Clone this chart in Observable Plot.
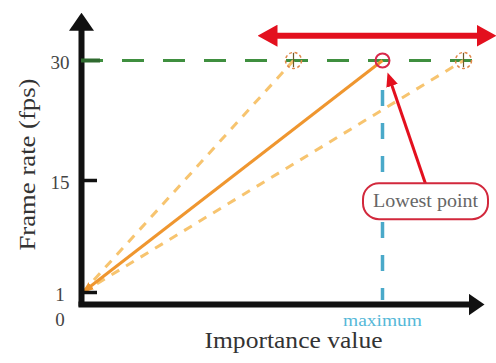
<!DOCTYPE html>
<html><head><meta charset="utf-8">
<script src="https://cdn.jsdelivr.net/npm/d3@7"></script>
<script src="https://cdn.jsdelivr.net/npm/@observablehq/plot@0.6"></script>
<style>body{margin:0;background:#fff} svg{display:block}</style>
</head><body><div id="chart"></div>
<script>
// ---- data ----
const yTicks = [1, 15, 30];
const yZero = [0];
const frameMin = 1;
const frameMax = 30;
const importanceStart = 0.25;
const importanceMax = 75.25;
const importanceAlt = [53, 95.5];
const maxLabel = ["maximum"];
const xTitle = ["Importance value"];
const yTitle = ["Frame rate (fps)"];
const noteLabel = ["Lowest point"];

// ---- annotation anchors (in scale units) ----
const yAxisLine = [{x1: 0, y1: -0.75, x2: 0, y2: 34.1}];
const xAxisLine = [{x1: -0.75, y1: -0.5, x2: 97.5, y2: -0.5}];
const rangeArrow = [{x1: 48.25, y1: 33.1, x2: 99.5, y2: 33.1}];
const noteBox = [{x1: 70.5, x2: 101.75, y1: 10.1, y2: 14.6}];
const notePos = {x: 86, y: 12.4};
const pointerArrow = [{x1: 86, y1: 14.6, x2: 77.4, y2: 27.2}];

const solidLine = [{x1: importanceStart, y1: frameMin, x2: importanceMax, y2: frameMax}];
const dashedLines = importanceAlt.map(v => ({x1: importanceStart, y1: frameMin, x2: v, y2: frameMax}));

const serif = "'Liberation Serif', 'DejaVu Serif', serif";

const chart = Plot.plot({
  width: 496,
  height: 363,
  marginLeft: 81,
  marginRight: 15,
  marginTop: 60,
  marginBottom: 63,
  x: {domain: [0, 100], axis: null},
  y: {domain: [0, 30], axis: null},
  style: {fontFamily: serif, background: "white", color: "#333", overflow: "visible"},
  marks: [
    Plot.ruleY([frameMax], {x1: 0, x2: 97.75, stroke: "#3f8f3f", strokeWidth: 3, strokeDasharray: "22,19"}),
    Plot.ruleX([importanceMax], {y1: 26.25, y2: 0, stroke: "#4aa9c9", strokeWidth: 3.5, strokeDasharray: "16,17"}),
    Plot.link(dashedLines, {x1: "x1", y1: "y1", x2: "x2", y2: "y2", stroke: "#f7c46f", strokeWidth: 3, strokeDasharray: "9,8"}),
    Plot.link(solidLine, {x1: "x1", y1: "y1", x2: "x2", y2: "y2", stroke: "#ef962f", strokeWidth: 3, ariaDescription: "orange-arrow"}),
    Plot.link(yAxisLine, {x1: "x1", y1: "y1", x2: "x2", y2: "y2", stroke: "#111", strokeWidth: 6, ariaDescription: "y-axis-line"}),
    Plot.link(xAxisLine, {x1: "x1", y1: "y1", x2: "x2", y2: "y2", stroke: "#111", strokeWidth: 6, ariaDescription: "x-axis-line"}),
    Plot.ruleY([1, 15], {x1: 0, x2: 4, stroke: "#111", strokeWidth: 3.5}),
    Plot.ruleY([frameMax], {x1: 0, x2: 4.75, stroke: "#2f6a2f", strokeWidth: 4}),
    Plot.axisY(yTicks, {anchor: "left", tickSize: 0, tickPadding: 21.5, textAnchor: "middle", fontSize: 19, color: "#444", dy: 2, label: null}),
    Plot.axisY(yZero, {anchor: "left", tickSize: 0, tickPadding: 21.5, textAnchor: "middle", fontSize: 19, color: "#444", dy: 19, label: null}),
    Plot.ruleX(importanceAlt, {y1: 29.1, y2: 30.9, stroke: "#6b5a2a", strokeWidth: 1.2}),
    Plot.dot(importanceAlt, {x: d => d, y: frameMax, r: 8, stroke: "#e0884a", strokeWidth: 1.5, strokeDasharray: "3,2.5", fill: "none"}),
    Plot.dot([importanceMax], {x: d => d, y: frameMax, r: 7, stroke: "#d8284a", strokeWidth: 2, fill: "none"}),
    Plot.link(rangeArrow, {x1: "x1", y1: "y1", x2: "x2", y2: "y2", stroke: "#e3101e", strokeWidth: 6, ariaDescription: "range-arrow"}),
    Plot.link(pointerArrow, {x1: "x1", y1: "y1", x2: "x2", y2: "y2", stroke: "#e3101e", strokeWidth: 3, ariaDescription: "pointer-arrow"}),
    Plot.rect(noteBox, {x1: "x1", x2: "x2", y1: "y1", y2: "y2", rx: 16, fill: "white", stroke: "#d2283c", strokeWidth: 2}),
    Plot.text(noteLabel, {x: notePos.x, y: notePos.y, text: d => d, fontSize: 18, fill: "#666", ariaDescription: "note-label"}),
    Plot.text(maxLabel, {x: importanceMax, y: 0, dy: 20, text: d => d, fontSize: 17, fill: "#55b8d8", ariaDescription: "max-label"}),
    Plot.text(xTitle, {frameAnchor: "bottom", dx: 12, dy: 47, text: d => d, fontSize: 23, fill: "#333", ariaDescription: "x-title"}),
    Plot.text(yTitle, {frameAnchor: "left", dx: -54, dy: 70, rotate: -90, textAnchor: "start", text: d => d, fontSize: 23, fill: "#333", ariaDescription: "y-title"})
  ]
});

document.getElementById("chart").appendChild(chart);

// ---- filled arrowheads ----
const svg = d3.select(chart);
const defs = svg.insert("defs", ":first-child");
function marker(id, color, len, wid, ref) {
  defs.append("marker")
    .attr("id", id)
    .attr("viewBox", `0 0 ${len} ${wid}`)
    .attr("refX", ref).attr("refY", wid / 2)
    .attr("markerWidth", len).attr("markerHeight", wid)
    .attr("markerUnits", "userSpaceOnUse")
    .attr("orient", "auto-start-reverse")
    .append("path")
    .attr("d", `M0,0L${len},${wid / 2}L0,${wid}Z`)
    .attr("fill", color);
}
marker("m-y", "#111", 18, 25, 3);
marker("m-x", "#111", 16, 22, 3);
marker("m-red", "#e3101e", 20, 22, 3);
marker("m-red-s", "#e3101e", 14, 12, 3);
marker("m-or", "#ef962f", 11, 9, 11);
const sel = (d) => svg.selectAll(`[aria-description="${d}"]`);
sel("y-axis-line").selectAll("path").attr("marker-end", "url(#m-y)");
sel("x-axis-line").selectAll("path").attr("marker-end", "url(#m-x)");
sel("range-arrow").selectAll("path").attr("marker-start", "url(#m-red)").attr("marker-end", "url(#m-red)");
sel("pointer-arrow").selectAll("path").attr("marker-end", "url(#m-red-s)");
sel("orange-arrow").selectAll("path").attr("marker-start", "url(#m-or)");

// ---- match text extents ----
function fit(d, len) {
  sel(d).selectAll("text").attr("textLength", len).attr("lengthAdjust", "spacingAndGlyphs");
}
fit("x-title", 178);
fit("y-title", 172);
fit("max-label", 79);
fit("note-label", 105);
</script>
</body></html>
